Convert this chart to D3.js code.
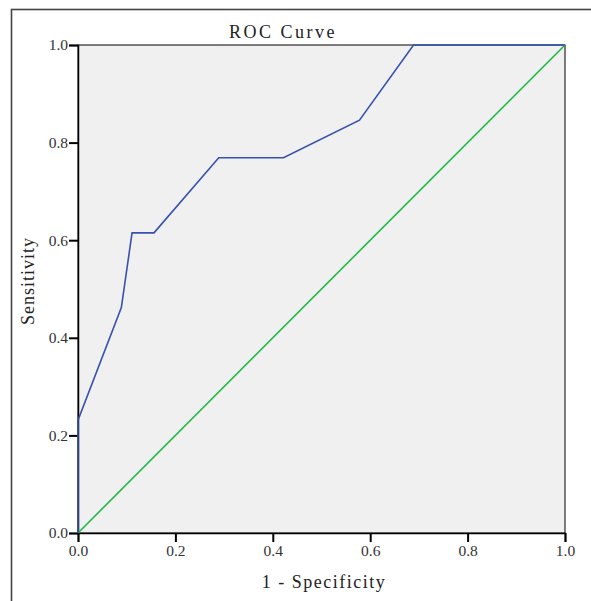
<!DOCTYPE html>
<html>
<head>
<meta charset="utf-8">
<script src="https://cdn.jsdelivr.net/npm/d3@7"></script>
<style>
  body { margin: 0; background: #fff; }
  svg { display: block; }
</style>
</head>
<body>
<div class="roc"></div>
<script>
// ROC curve points (1 - specificity, sensitivity)
var fpr = [0, 0, 0.089, 0.111, 0.156, 0.289, 0.422, 0.578, 0.689, 1.0];
var tpr = [0, 0.231, 0.462, 0.615, 0.615, 0.769, 0.769, 0.846, 1.0, 1.0];
// reference diagonal
var refX = [0, 1];
var refY = [0, 1];
var ticks = [0, 0.2, 0.4, 0.6, 0.8, 1.0];

var width = 591;
var height = 601;
var margin = { top: 45, right: 26, bottom: 68, left: 78 };
var plotW = width - margin.left - margin.right;
var plotH = height - margin.top - margin.bottom;

var svg = d3.select('.roc')
    .append('svg')
    .attr('width', width)
    .attr('height', height);

// outer frame, runs off the right and bottom edges
svg.append('rect')
    .attr('x', 11.5)
    .attr('y', 9.5)
    .attr('width', 640)
    .attr('height', 640)
    .attr('fill', 'none')
    .attr('stroke', '#444')
    .attr('stroke-width', 1.6);

var g = svg.append('g')
    .attr('transform', 'translate(' + margin.left + ',' + margin.top + ')');

var x = d3.scaleLinear().domain([0, 1]).range([0, plotW]);
var y = d3.scaleLinear().domain([0, 1]).range([plotH, 0]);

// grey plot background
g.append('rect')
    .attr('width', plotW)
    .attr('height', plotH)
    .attr('fill', '#f0f0f0')
    .attr('stroke', '#000')
    .attr('stroke-width', 1);

var font = '"Liberation Serif", "DejaVu Serif", serif';

var xAxis = g.append('g')
    .attr('transform', 'translate(0,' + plotH + ')')
    .call(d3.axisBottom(x).tickValues(ticks).tickFormat(d3.format('.1f')).tickSize(9).tickPadding(3));
var yAxis = g.append('g')
    .call(d3.axisLeft(y).tickValues(ticks).tickFormat(d3.format('.1f')).tickSize(9).tickPadding(1));

[xAxis, yAxis].forEach(function(a) {
    a.select('.domain').attr('stroke', '#000').attr('stroke-width', 1.5);
    a.selectAll('.tick line').attr('stroke', '#000').attr('stroke-width', 2);
    a.selectAll('.tick text')
        .attr('fill', '#333')
        .style('font-family', font)
        .style('font-size', '15.5px');
});

var line = d3.line()
    .x(function(d) { return x(d[0]); })
    .y(function(d) { return y(d[1]); });

// diagonal reference line
g.append('path')
    .datum(d3.zip(refX, refY))
    .attr('d', line)
    .attr('fill', 'none')
    .attr('stroke', '#22b94a')
    .attr('stroke-width', 1.6);

// ROC curve
g.append('path')
    .datum(d3.zip(fpr, tpr))
    .attr('d', line)
    .attr('fill', 'none')
    .attr('stroke', '#3652ad')
    .attr('stroke-width', 1.6);

// title and axis titles
svg.append('text')
    .attr('x', 283)
    .attr('y', 38)
    .attr('text-anchor', 'middle')
    .style('font-family', font)
    .style('font-size', '18px')
    .style('letter-spacing', '2.5px')
    .attr('fill', '#222')
    .text('ROC Curve');

svg.append('text')
    .attr('x', 324)
    .attr('y', 588)
    .attr('text-anchor', 'middle')
    .style('font-family', font)
    .style('font-size', '18px')
    .style('letter-spacing', '1.5px')
    .attr('fill', '#222')
    .text('1 - Specificity');

svg.append('text')
    .attr('transform', 'translate(34,281) rotate(-90)')
    .attr('text-anchor', 'middle')
    .style('font-family', font)
    .style('font-size', '18px')
    .style('letter-spacing', '1px')
    .attr('fill', '#222')
    .text('Sensitivity');
</script>
</body>
</html>
